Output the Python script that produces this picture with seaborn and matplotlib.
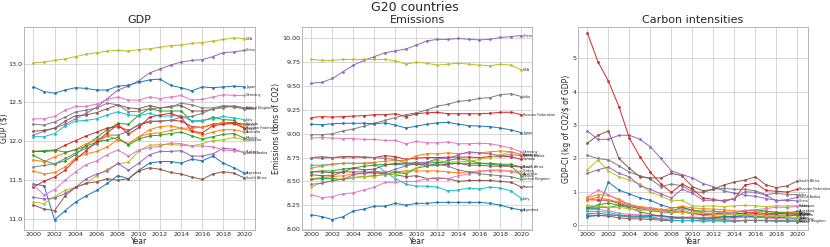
import numpy as np
import pandas as pd
import seaborn as sns
import matplotlib
matplotlib.use("Agg")
import matplotlib.pyplot as plt

# --- datos (log10) ---
years = list(range(2000, 2021))

countries = ["Argentina", "Australia", "Brazil", "Canada", "China", "France", "Germany",
             "India", "Indonesia", "Italy", "Japan", "Korea", "Mexico",
             "Russian Federation", "Saudi Arabia", "South Africa", "Turkey",
             "United Kingdom", "USA"]

# PIB, log10 de dolares
gdp_argentina = [11.45, 11.43, 10.99, 11.11, 11.22, 11.30, 11.37, 11.46, 11.56, 11.52, 11.63, 11.72, 11.74, 11.74, 11.72, 11.77, 11.75, 11.81, 11.72, 11.66, 11.59]
gdp_australia = [11.62, 11.58, 11.60, 11.67, 11.79, 11.84, 11.87, 11.93, 12.02, 11.97, 12.06, 12.15, 12.19, 12.20, 12.17, 12.13, 12.08, 12.12, 12.15, 12.15, 12.12]
gdp_brazil = [11.82, 11.75, 11.71, 11.75, 11.83, 11.95, 12.05, 12.15, 12.23, 12.22, 12.34, 12.42, 12.39, 12.39, 12.39, 12.26, 12.26, 12.31, 12.28, 12.27, 12.16]
gdp_canada = [11.87, 11.87, 11.88, 11.95, 12.01, 12.07, 12.12, 12.17, 12.19, 12.14, 12.21, 12.25, 12.26, 12.27, 12.26, 12.19, 12.18, 12.22, 12.24, 12.24, 12.22]
gdp_china = [12.08, 12.13, 12.17, 12.22, 12.29, 12.36, 12.44, 12.55, 12.66, 12.71, 12.78, 12.88, 12.93, 12.98, 13.02, 13.04, 13.05, 13.09, 13.14, 13.15, 13.17]
gdp_france = [12.13, 12.14, 12.17, 12.26, 12.33, 12.34, 12.37, 12.42, 12.47, 12.43, 12.42, 12.46, 12.43, 12.45, 12.46, 12.39, 12.39, 12.41, 12.45, 12.44, 12.42]
gdp_germany = [12.29, 12.29, 12.32, 12.40, 12.45, 12.45, 12.48, 12.54, 12.57, 12.53, 12.53, 12.57, 12.55, 12.57, 12.59, 12.53, 12.54, 12.57, 12.60, 12.59, 12.59]
gdp_india = [11.67, 11.69, 11.71, 11.78, 11.85, 11.91, 11.97, 12.08, 12.08, 12.13, 12.22, 12.26, 12.26, 12.27, 12.31, 12.32, 12.36, 12.42, 12.43, 12.46, 12.43]
gdp_indonesia = [11.22, 11.20, 11.29, 11.37, 11.41, 11.46, 11.56, 11.64, 11.71, 11.73, 11.88, 11.95, 11.96, 11.96, 11.95, 11.94, 11.97, 12.01, 12.02, 12.05, 12.02]
gdp_italy = [12.06, 12.06, 12.10, 12.20, 12.26, 12.27, 12.29, 12.34, 12.38, 12.34, 12.33, 12.36, 12.32, 12.33, 12.33, 12.26, 12.27, 12.29, 12.32, 12.30, 12.28]
gdp_japan = [12.70, 12.64, 12.62, 12.66, 12.69, 12.68, 12.66, 12.66, 12.71, 12.72, 12.76, 12.79, 12.80, 12.72, 12.69, 12.65, 12.70, 12.69, 12.70, 12.71, 12.70]
gdp_korea = [11.76, 11.74, 11.80, 11.85, 11.90, 11.97, 12.02, 12.07, 12.02, 11.97, 12.06, 12.10, 12.11, 12.14, 12.17, 12.17, 12.18, 12.21, 12.24, 12.22, 12.21]
gdp_mexico = [11.87, 11.88, 11.89, 11.86, 11.89, 11.94, 11.99, 12.02, 12.05, 11.95, 12.03, 12.07, 12.08, 12.10, 12.12, 12.07, 12.03, 12.06, 12.09, 12.10, 12.04]
gdp_russia = [11.41, 11.49, 11.54, 11.63, 11.77, 11.88, 12.00, 12.11, 12.22, 12.09, 12.18, 12.31, 12.34, 12.36, 12.31, 12.13, 12.11, 12.20, 12.22, 12.23, 12.17]
gdp_saudi = [11.28, 11.26, 11.27, 11.33, 11.41, 11.52, 11.58, 11.62, 11.72, 11.63, 11.72, 11.83, 11.87, 11.87, 11.88, 11.81, 11.81, 11.84, 11.91, 11.90, 11.85]
gdp_south_africa = [11.18, 11.13, 11.11, 11.30, 11.41, 11.46, 11.48, 11.52, 11.50, 11.52, 11.62, 11.66, 11.64, 11.60, 11.58, 11.54, 11.51, 11.58, 11.61, 11.59, 11.53]
gdp_turkey = [11.44, 11.31, 11.38, 11.50, 11.61, 11.70, 11.75, 11.83, 11.89, 11.81, 11.89, 11.92, 11.94, 11.98, 11.97, 11.94, 11.94, 11.93, 11.89, 11.88, 11.86]
gdp_uk = [12.22, 12.21, 12.25, 12.31, 12.38, 12.40, 12.43, 12.49, 12.47, 12.38, 12.39, 12.42, 12.43, 12.44, 12.49, 12.47, 12.43, 12.43, 12.46, 12.45, 12.43]
gdp_usa = [13.01, 13.02, 13.04, 13.06, 13.09, 13.12, 13.14, 13.16, 13.17, 13.16, 13.18, 13.19, 13.21, 13.23, 13.24, 13.26, 13.27, 13.29, 13.31, 13.33, 13.32]

# Emisiones, log10 de toneladas de CO2
co2_argentina = [8.15, 8.13, 8.10, 8.13, 8.19, 8.21, 8.24, 8.24, 8.27, 8.25, 8.27, 8.27, 8.28, 8.28, 8.28, 8.28, 8.28, 8.27, 8.25, 8.22, 8.20]
co2_australia = [8.53, 8.54, 8.55, 8.56, 8.58, 8.58, 8.59, 8.60, 8.60, 8.61, 8.61, 8.61, 8.61, 8.60, 8.59, 8.60, 8.61, 8.61, 8.61, 8.61, 8.58]
co2_brazil = [8.52, 8.53, 8.53, 8.52, 8.54, 8.55, 8.56, 8.57, 8.60, 8.58, 8.64, 8.66, 8.69, 8.72, 8.74, 8.72, 8.69, 8.69, 8.68, 8.68, 8.65]
co2_canada = [8.75, 8.745, 8.75, 8.76, 8.76, 8.755, 8.75, 8.77, 8.76, 8.73, 8.745, 8.75, 8.75, 8.755, 8.755, 8.755, 8.75, 8.76, 8.765, 8.76, 8.73]
co2_china = [9.53, 9.54, 9.58, 9.65, 9.72, 9.77, 9.81, 9.85, 9.87, 9.89, 9.93, 9.975, 9.99, 9.99, 10.0, 9.99, 9.985, 9.99, 10.01, 10.02, 10.03]
co2_france = [8.60, 8.60, 8.59, 8.60, 8.60, 8.60, 8.59, 8.58, 8.57, 8.55, 8.56, 8.53, 8.53, 8.53, 8.50, 8.51, 8.51, 8.51, 8.50, 8.49, 8.44]
co2_germany = [8.955, 8.96, 8.955, 8.95, 8.95, 8.94, 8.94, 8.93, 8.93, 8.895, 8.92, 8.905, 8.905, 8.915, 8.895, 8.895, 8.90, 8.895, 8.875, 8.85, 8.81]
co2_india = [8.99, 8.99, 9.00, 9.03, 9.05, 9.08, 9.11, 9.14, 9.17, 9.20, 9.22, 9.25, 9.29, 9.31, 9.34, 9.35, 9.37, 9.38, 9.41, 9.42, 9.39]
co2_indonesia = [8.44, 8.49, 8.50, 8.53, 8.54, 8.55, 8.55, 8.58, 8.57, 8.60, 8.64, 8.70, 8.72, 8.70, 8.71, 8.71, 8.73, 8.75, 8.78, 8.81, 8.78]
co2_italy = [8.67, 8.67, 8.68, 8.69, 8.69, 8.69, 8.69, 8.60, 8.53, 8.47, 8.45, 8.45, 8.44, 8.40, 8.41, 8.43, 8.42, 8.44, 8.43, 8.40, 8.32]
co2_japan = [9.10, 9.095, 9.105, 9.11, 9.11, 9.11, 9.105, 9.115, 9.09, 9.06, 9.08, 9.10, 9.115, 9.12, 9.10, 9.085, 9.08, 9.075, 9.06, 9.04, 9.01]
co2_korea = [8.64, 8.66, 8.68, 8.69, 8.69, 8.69, 8.70, 8.71, 8.72, 8.72, 8.77, 8.79, 8.79, 8.80, 8.79, 8.80, 8.80, 8.81, 8.82, 8.81, 8.78]
co2_mexico = [8.60, 8.61, 8.61, 8.63, 8.64, 8.66, 8.67, 8.68, 8.68, 8.67, 8.68, 8.69, 8.70, 8.69, 8.69, 8.69, 8.69, 8.68, 8.67, 8.66, 8.56]
co2_russia = [9.17, 9.18, 9.175, 9.18, 9.185, 9.19, 9.20, 9.20, 9.21, 9.18, 9.21, 9.22, 9.225, 9.21, 9.21, 9.21, 9.21, 9.215, 9.225, 9.225, 9.20]
co2_saudi = [8.47, 8.48, 8.51, 8.52, 8.57, 8.59, 8.61, 8.59, 8.63, 8.66, 8.70, 8.70, 8.74, 8.74, 8.78, 8.81, 8.80, 8.79, 8.77, 8.78, 8.77]
co2_south_africa = [8.57, 8.56, 8.56, 8.60, 8.64, 8.62, 8.63, 8.67, 8.69, 8.69, 8.68, 8.67, 8.67, 8.68, 8.69, 8.67, 8.67, 8.66, 8.66, 8.66, 8.65]
co2_turkey = [8.36, 8.33, 8.34, 8.37, 8.38, 8.41, 8.44, 8.49, 8.49, 8.50, 8.50, 8.53, 8.54, 8.53, 8.56, 8.58, 8.60, 8.62, 8.62, 8.60, 8.61]
co2_uk = [8.75, 8.76, 8.75, 8.755, 8.755, 8.755, 8.75, 8.74, 8.73, 8.69, 8.70, 8.66, 8.68, 8.66, 8.62, 8.60, 8.58, 8.57, 8.56, 8.55, 8.52]
co2_usa = [9.78, 9.77, 9.77, 9.78, 9.78, 9.78, 9.78, 9.78, 9.765, 9.73, 9.75, 9.74, 9.72, 9.73, 9.74, 9.73, 9.72, 9.715, 9.73, 9.72, 9.67]

gdp_series = [gdp_argentina, gdp_australia, gdp_brazil, gdp_canada, gdp_china, gdp_france,
              gdp_germany, gdp_india, gdp_indonesia, gdp_italy, gdp_japan, gdp_korea,
              gdp_mexico, gdp_russia, gdp_saudi, gdp_south_africa, gdp_turkey, gdp_uk, gdp_usa]
co2_series = [co2_argentina, co2_australia, co2_brazil, co2_canada, co2_china, co2_france,
              co2_germany, co2_india, co2_indonesia, co2_italy, co2_japan, co2_korea,
              co2_mexico, co2_russia, co2_saudi, co2_south_africa, co2_turkey, co2_uk, co2_usa]

# --- tabla larga ---
rows = []
for name, g, e in zip(countries, gdp_series, co2_series):
    for y, gv, ev in zip(years, g, e):
        rows.append({"Country": name, "Year": y, "GDP": gv, "CO2": ev,
                     "CI": 1000 * 10 ** (ev - gv)})  # kg de CO2 por dolar
df = pd.DataFrame(rows)

# --- grafico ---
sns.set_style("whitegrid")
plt.rcParams["font.family"] = ["DejaVu Sans"]
palette = sns.color_palette("tab10", len(countries))

fig = plt.figure(figsize=(8.3, 2.47), dpi=100)
fig.suptitle("G20 countries", fontsize=9, y=0.995)

panels = [
    ("GDP", "GDP ($)", "GDP", [24, 231], (10.86, 13.47), [11.0, 11.5, 12.0, 12.5, 13.0]),
    ("CO2", "Emissions (tons of CO2)", "Emissions", [302, 230], (7.99, 10.12), [8.0, 8.25, 8.5, 8.75, 9.0, 9.25, 9.5, 9.75, 10.0]),
    ("CI", "GDP-CI (kg of CO2/$ of GDP)", "Carbon intensities", [578, 230], (-0.15, 5.94), [0, 1, 2, 3, 4, 5]),
]

for col, ylab, title, (left, width), ylim, yticks in panels:
    ax = fig.add_axes([left / 830, 17 / 247, width / 830, 203 / 247])
    sns.lineplot(data=df, x="Year", y=col, hue="Country", palette=palette,
                 marker="o", markersize=2, markeredgewidth=0, linewidth=0.7,
                 legend=False, ax=ax)
    for name in countries:
        last = df[(df["Country"] == name) & (df["Year"] == 2020)][col].values[0]
        ax.text(2020.12, last, name, fontsize=2.4, va="center")
    ax.set_title(title, fontsize=8, pad=3)
    ax.set_xlabel("Year", fontsize=5.5, labelpad=0)
    ax.set_ylabel(ylab, fontsize=5.5, labelpad=1)
    ax.set_xticks(range(2000, 2021, 2))
    ax.set_yticks(yticks)
    ax.set_ylim(*ylim)
    ax.set_xlim(1999.1, 2021.0)
    ax.tick_params(labelsize=4.6, pad=1.2, length=0)
    ax.grid(color="#d0d0d0", linewidth=0.6)
    for s in ax.spines.values():
        s.set_color("#aaaaaa")
        s.set_linewidth(0.6)
    if col == "GDP":
        # dejar la etiqueta dentro de la figura
        ax.yaxis.set_label_coords(-0.068, 0.5)

fig.savefig("out.png", dpi=100)
